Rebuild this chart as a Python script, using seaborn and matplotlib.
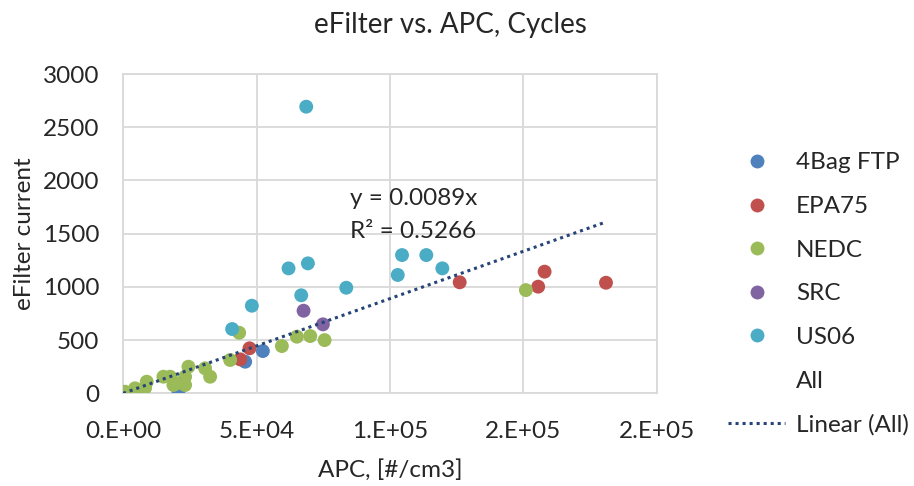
import matplotlib
matplotlib.use("Agg")
import matplotlib.pyplot as plt
from matplotlib.lines import Line2D
from matplotlib.ticker import FuncFormatter
import numpy as np
import pandas as pd
import seaborn as sns

# ------------------------------------------------------------------------------
# Data (APC in #/cm3, eFilter current)
# ------------------------------------------------------------------------------
bag4_x = [20750, 45750, 52375]
bag4_y = [22, 297, 397]

epa75_x = [43875, 47375, 126100, 155500, 157900, 180900]
epa75_y = [319, 423, 1043, 1002, 1143, 1039]

nedc_x = [750, 2625, 4500, 8250, 8875, 15125, 17625, 18875, 20125, 23250,
          23250, 24500, 30750, 32625, 40125, 43500, 59500, 65125, 70125,
          75500, 150900]
nedc_y = [15, 0, 47, 50, 109, 156, 156, 78, 94, 78,
          156, 250, 235, 156, 313, 569, 444, 532, 538,
          500, 970]

src_x = [67625, 74875]
src_y = [776, 648]

us06_x = [68625, 62000, 69250, 83625, 66750, 48250, 40875, 104500, 113600,
          102900, 119600]
us06_y = [2693, 1174, 1221, 992, 921, 823, 604, 1299, 1299,
          1112, 1174]

cycle_names = ["4Bag FTP", "EPA75", "NEDC", "SRC", "US06"]
cycle_colors = ["#4F81BD", "#C0504D", "#9BBB59", "#8064A2", "#4BACC6"]

trend_slope = 0.0089
trend_r2 = 0.5266

TITLE = "eFilter vs. APC, Cycles"
X_LABEL = "APC, [#/cm3]"
Y_LABEL = "eFilter current"

# ------------------------------------------------------------------------------
# Build frame
# ------------------------------------------------------------------------------
series = [(bag4_x, bag4_y), (epa75_x, epa75_y), (nedc_x, nedc_y),
          (src_x, src_y), (us06_x, us06_y)]
frames = []
for name, (xs, ys) in zip(cycle_names, series):
    frames.append(pd.DataFrame({"apc": xs, "current": ys, "cycle": name}))
df = pd.concat(frames, ignore_index=True)

# ------------------------------------------------------------------------------
# Plot
# ------------------------------------------------------------------------------
sns.set_theme(style="white")
plt.rcParams["font.family"] = ["Lato", "DejaVu Sans"]
plt.rcParams["text.color"] = "#262626"

FS = 17.5
TREND_COLOR = "#264478"
TREND_DASH = (0, (1, 1.3))

fig = plt.figure(figsize=(9.14, 4.86), dpi=100)
ax = fig.add_axes([0.1346, 0.1907, 0.5842, 0.657])

palette = dict(zip(cycle_names, cycle_colors))
sns.scatterplot(data=df, x="apc", y="current", hue="cycle", palette=palette,
                s=100, edgecolor="none", linewidth=0, ax=ax, legend=False,
                zorder=3)

# linear trendline through origin for all points
x_end = df["apc"].max()
trend_x = np.array([0, x_end])
ax.plot(trend_x, trend_slope * trend_x, color=TREND_COLOR, linestyle=TREND_DASH,
        linewidth=2.2, zorder=4)

ax.text(85000, 1835, f"y = {trend_slope}x", fontsize=FS, va="center", ha="left",
        zorder=5)
ax.text(85000, 1525, f"R² = {trend_r2}", fontsize=FS, va="center", ha="left",
        zorder=5)

ax.set_xlim(0, 200000)
ax.set_ylim(0, 3000)
ax.set_xticks([0, 50000, 100000, 150000, 200000])
ax.set_yticks(range(0, 3001, 500))


def sci_fmt(v, pos):
    if v == 0:
        return "0.E+00"
    exp = int(np.floor(np.log10(abs(v))))
    mant = round(v / 10 ** exp)
    return f"{mant}.E+{exp:02d}"


ax.xaxis.set_major_formatter(FuncFormatter(sci_fmt))
ax.grid(True, color="#D9D9D9", linewidth=1.3)
ax.set_axisbelow(True)
for sp in ax.spines.values():
    sp.set_color("#D9D9D9")
    sp.set_linewidth(1.3)
ax.tick_params(axis="both", length=0, labelsize=FS, colors="#262626")
ax.tick_params(axis="x", pad=20)
ax.tick_params(axis="y", pad=17)

fig.text(450 / 914, 1 - 25 / 486, TITLE, fontsize=20, ha="center", va="center")
ax.set_xlabel(X_LABEL, fontsize=FS)
ax.set_ylabel(Y_LABEL, fontsize=FS)
ax.xaxis.set_label_coords(0.5, -0.24)
ax.yaxis.set_label_coords(-0.185, 0.5)
ax.xaxis.label.set_va("center")
ax.yaxis.label.set_va("center")

handles = [Line2D([], [], marker="o", linestyle="none", markersize=10,
                  markerfacecolor=c, markeredgecolor="none") for c in cycle_colors]
handles.append(Line2D([], [], linestyle="none", marker=None))
handles.append(Line2D([], [], color=TREND_COLOR, linestyle=TREND_DASH, linewidth=2.2))
labels = cycle_names + ["All", "Linear (All)"]
ax.legend(handles, labels, loc="center left", bbox_to_anchor=(1.133, 0.311),
          frameon=False, fontsize=FS, labelspacing=0.93, handlelength=2.35,
          handletextpad=0.45, borderpad=0, borderaxespad=0)

fig.savefig("out.png", dpi=100)
